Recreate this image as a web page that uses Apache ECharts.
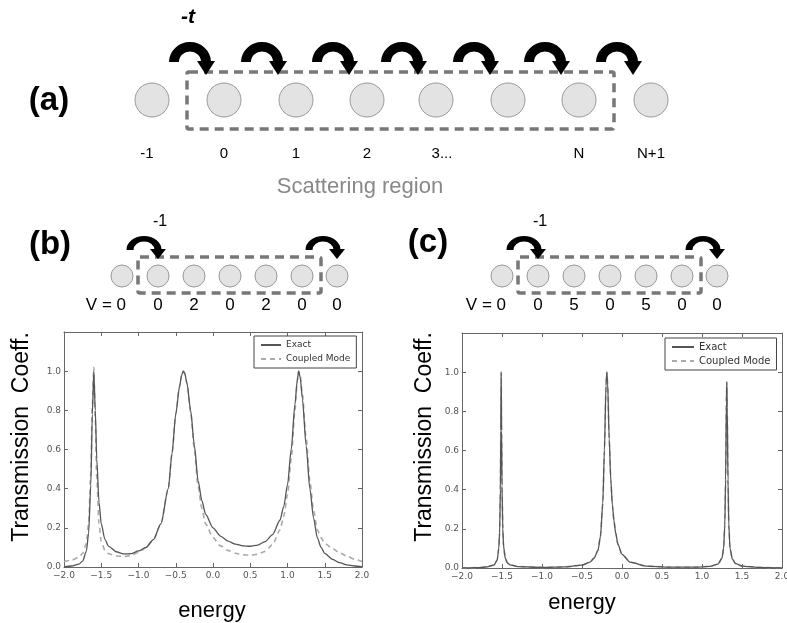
<!DOCTYPE html>
<html>
<head>
<meta charset="utf-8">
<script src="https://cdn.jsdelivr.net/npm/echarts@6/dist/echarts.min.js"></script>
<style>
  html, body { margin: 0; padding: 0; background: #fff; }
  #main { width: 787px; height: 623px; }
</style>
</head>
<body>
<div id="main"></div>
<script>
// chain pictures on top
const circlesA = [152, 224, 296, 367, 436, 508, 579, 651]
const labelsA = ['-1', '0', '1', '2', '3...', '', 'N', 'N+1']
const circlesB = [122, 158, 194, 230, 266, 302, 337]
const potentialsB = ['V = 0', '0', '2', '0', '2', '0', '0']
const potentialsC = ['V = 0', '0', '5', '0', '5', '0', '0']

// axis ticks
const energyTicks = [-2.0, -1.5, -1.0, -0.5, 0.0, 0.5, 1.0, 1.5, 2.0]
const transTicks = [0.0, 0.2, 0.4, 0.6, 0.8, 1.0]

// (b) V = 0 0 2 0 2 0 0
const energyB = [-2.0, -1.9, -1.8, -1.75, -1.7, -1.67, -1.64, -1.62, -1.6, -1.58,
  -1.56, -1.53, -1.5, -1.45, -1.4, -1.3, -1.2, -1.1, -1.0, -0.9,
  -0.8, -0.7, -0.6, -0.55, -0.5, -0.45, -0.42, -0.4, -0.38, -0.35,
  -0.3, -0.25, -0.2, -0.15, -0.1, 0.0, 0.1, 0.2, 0.3, 0.4,
  0.5, 0.6, 0.7, 0.8, 0.9, 0.95, 1.0, 1.05, 1.1, 1.13,
  1.15, 1.17, 1.2, 1.25, 1.3, 1.35, 1.4, 1.45, 1.5, 1.6,
  1.7, 1.8, 1.9, 2.0]
const exactB = [0.0, 0.005, 0.015, 0.03, 0.08, 0.17, 0.42, 0.78, 1.0, 0.8,
  0.55, 0.33, 0.22, 0.14, 0.105, 0.078, 0.067, 0.068, 0.082, 0.1,
  0.14, 0.22, 0.4, 0.58, 0.78, 0.92, 0.98, 1.0, 0.99, 0.94,
  0.8, 0.62, 0.44, 0.34, 0.27, 0.2, 0.158, 0.132, 0.117, 0.108,
  0.106, 0.112, 0.13, 0.165, 0.24, 0.31, 0.42, 0.6, 0.83, 0.95,
  1.0, 0.97, 0.86, 0.62, 0.4, 0.25, 0.15, 0.1, 0.07, 0.04,
  0.022, 0.011, 0.005, 0.002]
const coupledB = [0.027, 0.035, 0.05, 0.07, 0.12, 0.22, 0.48, 0.82, 1.02, 0.75,
  0.45, 0.22, 0.13, 0.085, 0.068, 0.056, 0.053, 0.06, 0.075, 0.098,
  0.138, 0.22, 0.4, 0.58, 0.78, 0.92, 0.98, 1.0, 0.99, 0.94,
  0.79, 0.6, 0.41, 0.3, 0.22, 0.15, 0.108, 0.085, 0.07, 0.062,
  0.06, 0.065, 0.08, 0.115, 0.19, 0.26, 0.37, 0.55, 0.8, 0.95,
  1.0, 0.98, 0.88, 0.66, 0.44, 0.29, 0.19, 0.15, 0.12, 0.095,
  0.073, 0.055, 0.04, 0.028]

// (c) V = 0 0 5 0 5 0 0
const energyC = [-2.0, -1.8, -1.7, -1.6, -1.56, -1.54, -1.53, -1.52, -1.515, -1.51,
  -1.505, -1.5, -1.49, -1.48, -1.46, -1.43, -1.4, -1.3, -1.0, -0.7,
  -0.5, -0.4, -0.35, -0.3, -0.27, -0.24, -0.22, -0.2, -0.19, -0.18,
  -0.16, -0.14, -0.12, -0.1, -0.08, -0.05, 0.0, 0.1, 0.3, 0.6,
  0.9, 1.1, 1.2, 1.25, 1.27, 1.285, 1.295, 1.305, 1.31, 1.315,
  1.325, 1.335, 1.35, 1.38, 1.42, 1.5, 1.7, 2.0]
const exactC = [0.0, 0.002, 0.005, 0.015, 0.04, 0.1, 0.18, 0.4, 0.7, 1.0,
  0.7, 0.42, 0.2, 0.11, 0.05, 0.025, 0.016, 0.007, 0.003, 0.006,
  0.015, 0.03, 0.05, 0.09, 0.16, 0.33, 0.6, 0.93, 1.0, 0.95,
  0.66, 0.45, 0.32, 0.24, 0.18, 0.12, 0.07, 0.03, 0.01, 0.004,
  0.004, 0.008, 0.02, 0.05, 0.1, 0.22, 0.45, 0.85, 0.95, 0.82,
  0.45, 0.22, 0.1, 0.045, 0.022, 0.01, 0.003, 0.0]
const coupledC = [0.0, 0.002, 0.005, 0.015, 0.04, 0.1, 0.18, 0.4, 0.7, 1.0,
  0.7, 0.42, 0.2, 0.11, 0.05, 0.025, 0.016, 0.007, 0.003, 0.006,
  0.015, 0.03, 0.05, 0.09, 0.16, 0.33, 0.6, 0.93, 1.0, 0.95,
  0.66, 0.45, 0.32, 0.24, 0.18, 0.12, 0.07, 0.03, 0.01, 0.004,
  0.004, 0.008, 0.02, 0.05, 0.1, 0.22, 0.45, 0.85, 0.95, 0.82,
  0.45, 0.22, 0.1, 0.045, 0.022, 0.01, 0.003, 0.0]

const FONT = '"Liberation Sans", Arial, Helvetica, sans-serif'
const pairs = (xs, ys) => xs.map((x, i) => [x, ys[i]])

function text(str, x, y, size, opts) {
  opts = opts || {}
  return {
    type: 'text', x: x, y: y, rotation: opts.rotation || 0, z: 10,
    style: {
      text: str,
      fill: opts.color || '#000',
      font: (opts.weight || '') + ' ' + size + 'px ' + FONT,
      textAlign: opts.align || 'center',
      textVerticalAlign: 'middle'
    }
  }
}
function site(x, y, r) {
  return { type: 'circle', z: 5, shape: { cx: x, cy: y, r: r },
    style: { fill: '#e3e3e3', stroke: '#999', lineWidth: 1 } }
}
function dashedBox(x, y, w, h) {
  return { type: 'rect', z: 6, shape: { x: x, y: y, width: w, height: h, r: 2 },
    style: { fill: null, stroke: '#777', lineWidth: 3.5, lineDash: [9, 6] } }
}
// curved hopping arrow ending at (tipX, baseY + headH)
function hop(tipX, baseY, r, w, headW, headH, sy) {
  return [
    { type: 'arc', z: 8, scaleY: sy, originX: tipX - r, originY: baseY,
      shape: { cx: tipX - r, cy: baseY, r: r, startAngle: Math.PI, endAngle: Math.PI * 2, clockwise: true },
      style: { stroke: '#000', lineWidth: w, fill: null } },
    { type: 'polygon', z: 8,
      shape: { points: [[tipX - headW, baseY - 1], [tipX + headW, baseY - 1], [tipX, baseY + headH]] },
      style: { fill: '#000' } }
  ]
}

const graphics = []
// (a)
graphics.push(text('(a)', 49, 101, 33, { weight: 'bold' }))
graphics.push(dashedBox(187, 72, 427, 57))
circlesA.forEach((cx, i) => {
  graphics.push(site(cx, 100, 17))
  if (labelsA[i]) graphics.push(text(labelsA[i], cx + (labelsA[i] === '3...' ? 6 : (labelsA[i] === '-1' ? -5 : 0)), 154, 15))
  if (i > 0) graphics.push(...hop(cx - 18, 62, 16, 10, 9, 13, 0.95))
})
graphics.push(text('-t', 188, 17, 21, { weight: 'italic bold' }))
graphics.push(text('Scattering region', 360, 187, 22, { color: '#888' }))

// (b) and (c)
;[[0, potentialsB, '(b)'], [380, potentialsC, '(c)']].forEach(([dx, pots, tag]) => {
  graphics.push(text(tag, 50 + dx - (dx ? 2 : 0), 245 - (dx ? 2 : 0), 33, { weight: 'bold' }))
  graphics.push(dashedBox(138 + dx, 257, 183, 36))
  circlesB.forEach((cx, i) => {
    graphics.push(site(cx + dx, 276, 11))
    if (i === 0) graphics.push(text(pots[i], cx + dx + 4, 305, 17, { align: 'right' }))
    else graphics.push(text(pots[i], cx + dx, 305, 17))
  })
  graphics.push(...hop(158 + dx, 250, 14, 7, 8, 9, 0.8))
  graphics.push(...hop(337 + dx, 250, 14, 7, 8, 9, 0.8))
  graphics.push(text('-1', 160 + dx, 222, 16))
})

// axis titles
graphics.push(text('Transmission  Coeff.', 22, 437, 23, { rotation: Math.PI / 2 }))
graphics.push(text('Transmission  Coeff.', 425, 437, 23, { rotation: Math.PI / 2 }))
graphics.push(text('energy', 212, 611, 22))
graphics.push(text('energy', 582, 603, 22))

const tickLabel = v => {
  if (energyTicks.indexOf(v) < 0 && transTicks.indexOf(v) < 0) return ''
  return v.toFixed(1).replace('-', '\u2212')
}
const tickStyle = { fontSize: 9, color: '#555', fontFamily: '"DejaVu Sans", sans-serif' }
const lineCol = '#666'

const grids = [
  { left: 64, top: 332, width: 298, height: 235, outerBoundsMode: 'none', containLabel: false },
  { left: 462, top: 333, width: 320, height: 235, outerBoundsMode: 'none', containLabel: false }
]

const frameLine = { show: true, onZero: false, lineStyle: { color: lineCol } }
const innerTick = { show: true, inside: true, length: 4, lineStyle: { color: lineCol } }

const xAxes = []
const yAxes = []
// bottom / left axes with labels
grids.forEach((g, i) => {
  xAxes.push({
    type: 'value', gridIndex: i, position: 'bottom', min: -2, max: 2, interval: 0.5,
    axisLine: frameLine, axisTick: innerTick,
    axisLabel: Object.assign({ margin: 4, formatter: tickLabel, hideOverlap: false, showMaxLabel: true, showMinLabel: true }, tickStyle),
    splitLine: { show: false }
  })
  yAxes.push({
    type: 'value', gridIndex: i, position: 'left', min: 0, max: 1.2, interval: 0.2,
    axisLine: frameLine, axisTick: innerTick,
    axisLabel: Object.assign({ margin: 3, formatter: v => (v > 1.1 ? '' : tickLabel(Math.round(v * 10) / 10)) }, tickStyle),
    splitLine: { show: false }
  })
})
// top / right axes, ticks only
grids.forEach((g, i) => {
  xAxes.push({
    type: 'value', gridIndex: i, position: 'top', min: -2, max: 2, interval: 0.5,
    axisLine: frameLine, axisTick: innerTick,
    axisLabel: { show: false }, splitLine: { show: false }
  })
  yAxes.push({
    type: 'value', gridIndex: i, position: 'right', min: 0, max: 1.2, interval: 0.2,
    axisLine: frameLine, axisTick: innerTick,
    axisLabel: { show: false }, splitLine: { show: false }
  })
})

const lineSeries = (name, gi, data, dashed) => ({
  name: name, type: 'line', xAxisIndex: gi, yAxisIndex: gi,
  data: data, symbol: 'none', smooth: 0.25, smoothMonotone: 'x',
  z: dashed ? 2 : 3,
  itemStyle: { color: dashed ? '#aaa' : '#555' },
  lineStyle: dashed ? { color: '#aaa', width: 1.6, type: [5, 4] } : { color: '#555', width: 1.3 }
})

const legendBase = {
  orient: 'vertical', selectedMode: false, backgroundColor: '#fff',
  borderColor: '#444', borderWidth: 1, borderRadius: 0,
  itemGap: 2, padding: [3, 6], z: 20,
  itemStyle: { opacity: 0 },
  data: ['Exact', 'Coupled Mode']
}

const myChart = echarts.init(document.getElementById('main'), null, { renderer: 'canvas' })
myChart.setOption({
  animation: false,
  backgroundColor: '#fff',
  grid: grids,
  xAxis: xAxes,
  yAxis: yAxes,
  legend: [
    Object.assign({}, legendBase, { left: 254, top: 336, itemWidth: 20, itemHeight: 8,
      textStyle: { fontSize: 9, color: '#333', lineHeight: 12, fontFamily: '"DejaVu Sans", sans-serif' } }),
    Object.assign({}, legendBase, { left: 665, top: 338, itemWidth: 22, itemHeight: 8,
      textStyle: { fontSize: 10, color: '#333', lineHeight: 12, fontFamily: '"DejaVu Sans", sans-serif' } })
  ],
  series: [
    lineSeries('Coupled Mode', 0, pairs(energyB, coupledB), true),
    lineSeries('Exact', 0, pairs(energyB, exactB), false),
    lineSeries('Coupled Mode', 1, pairs(energyC, coupledC), true),
    lineSeries('Exact', 1, pairs(energyC, exactC), false)
  ],
  graphic: graphics
})
</script>
</body>
</html>
